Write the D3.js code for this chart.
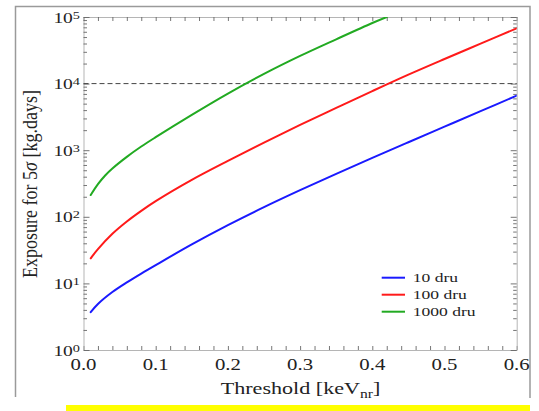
<!DOCTYPE html>
<html>
<head>
<meta charset="utf-8">
<script src="https://cdn.jsdelivr.net/npm/d3@7"></script>
<style>
  html, body { margin: 0; padding: 0; background: #fff; }
  svg { display: block; }
  text { font-family: "Liberation Serif", "Times New Roman", serif; fill: #222; }
</style>
</head>
<body>
<svg id="chart" width="539" height="411"></svg>
<script>
// Required exposure for a 5 sigma detection vs. nuclear-recoil threshold
const threshold = [0.01, 0.02, 0.04, 0.06, 0.08, 0.10, 0.15, 0.20, 0.25, 0.30, 0.35, 0.40, 0.45, 0.50, 0.55, 0.60];
const exposure10dru  = [3.7, 4.9, 7.41, 10.35, 14.06, 18.84, 38.5, 75.0, 139.6, 251, 442, 767, 1318, 2254, 3855, 6607];
const exposure100dru = [23.8, 32.7, 55.6, 85.1, 123, 172, 359, 692, 1303, 2399, 4315, 7727, 13650, 23440, 39810, 67610];
const threshold1000 = [0.01, 0.02, 0.03, 0.04, 0.06, 0.08, 0.10, 0.15, 0.20, 0.25, 0.30, 0.35, 0.40, 0.42];
const exposure1000dru = [212, 309, 417, 531, 794, 1135, 1567, 3388, 7079, 13960, 26000, 46240, 81280, 100000];

const seriesNames = ["10 dru", "100 dru", "1000 dru"];
const seriesColors = ["#1a1aff", "#ff1a1a", "#22aa22"];
const xTickLabels = [0.0, 0.1, 0.2, 0.3, 0.4, 0.5, 0.6];
const yDecades = [0, 1, 2, 3, 4, 5];
const referenceExposure = 1e4;

const series = [
  { name: seriesNames[0], color: seriesColors[0], xs: threshold, ys: exposure10dru },
  { name: seriesNames[1], color: seriesColors[1], xs: threshold, ys: exposure100dru },
  { name: seriesNames[2], color: seriesColors[2], xs: threshold1000, ys: exposure1000dru }
];

const svg = d3.select("#chart");
const SX = 1.3; // horizontal glyph stretch used by the figure's typesetting

const plot = { left: 83.5, right: 516.7, top: 17, bottom: 350 };
const x = d3.scaleLinear().domain([0, 0.6]).range([plot.left, plot.right]);
const y = d3.scaleLog().domain([1, 1e5]).range([plot.bottom, plot.top]);

// outer frame (open at the bottom)
svg.append("path")
  .attr("d", `M15.5,397 L15.5,6.5 L530,6.5 L530,398`)
  .attr("fill", "none").attr("stroke", "#9a9a9a").attr("stroke-width", 1.5);

// tick sets
const xMinor = d3.range(0, 31).map(i => +(i * 0.02).toFixed(2));
const yAll = [];
yDecades.slice(0, -1).forEach(d => { for (let m = 1; m <= 9; m++) yAll.push(m * Math.pow(10, d)); });
yAll.push(1e5);
const isMajorY = v => Math.abs(Math.log10(v) - Math.round(Math.log10(v))) < 1e-9;

function styleAxis(g) {
  g.select(".domain").attr("stroke", "#b5b5b5").attr("stroke-width", 1);
  g.selectAll(".tick line").attr("stroke", "#666").attr("stroke-width", 0.9);
  g.selectAll(".tick text").remove();
}

svg.append("g").attr("transform", `translate(0,${plot.bottom})`)
  .call(d3.axisBottom(x).tickValues(xMinor).tickSize(-4).tickSizeOuter(0).tickFormat(""))
  .call(styleAxis);
svg.append("g").attr("transform", `translate(0,${plot.top})`)
  .call(d3.axisTop(x).tickValues(xMinor).tickSize(-4).tickSizeOuter(0).tickFormat(""))
  .call(styleAxis);

const gl = svg.append("g").attr("transform", `translate(${plot.left},0)`)
  .call(d3.axisLeft(y).tickValues(yAll).tickSize(-3.5).tickSizeOuter(0).tickFormat(""))
  .call(styleAxis);
gl.selectAll(".tick line").attr("x2", d => isMajorY(d) ? 6 : 3.5);
const gr = svg.append("g").attr("transform", `translate(${plot.right},0)`)
  .call(d3.axisRight(y).tickValues(yAll).tickSize(-3.5).tickSizeOuter(0).tickFormat(""))
  .call(styleAxis);
gr.selectAll(".tick line").attr("x2", d => isMajorY(d) ? -6 : -3.5);

// x tick labels
svg.append("g").selectAll("text").data(xTickLabels).join("text")
  .attr("transform", d => `translate(${x(d)},370) scale(${SX},1)`)
  .attr("text-anchor", "middle").attr("font-size", 16)
  .text(d => d.toFixed(1));

// y tick labels 10^n
const yl = svg.append("g").selectAll("text").data(yDecades).join("text")
  .attr("transform", d => `translate(80,${y(Math.pow(10, d)) + 5.5}) scale(${SX},1)`)
  .attr("text-anchor", "end").attr("font-size", 15);
yl.append("tspan").text("10");
yl.append("tspan").attr("font-size", 11).attr("dy", -4).text(d => d);

// reference line at 10^4
svg.append("line")
  .attr("x1", plot.left).attr("x2", plot.right)
  .attr("y1", y(referenceExposure)).attr("y2", y(referenceExposure))
  .attr("stroke", "#444").attr("stroke-width", 1).attr("stroke-dasharray", "5,3");

// curves
svg.append("clipPath").attr("id", "plotClip").append("rect")
  .attr("x", plot.left).attr("y", plot.top)
  .attr("width", plot.right - plot.left).attr("height", plot.bottom - plot.top);

const line = d3.line().x(d => x(d[0])).y(d => y(d[1])).curve(d3.curveCatmullRom.alpha(0.5));
svg.append("g").attr("clip-path", "url(#plotClip)")
  .selectAll("path").data(series).join("path")
  .attr("d", s => line(s.xs.map((v, i) => [v, s.ys[i]])))
  .attr("fill", "none").attr("stroke", s => s.color).attr("stroke-width", 2)
  .attr("stroke-linejoin", "round").attr("stroke-linecap", "round");

// legend
const lg = svg.append("g").selectAll("g").data(series).join("g")
  .attr("transform", (s, i) => `translate(0,${277.7 + i * 17})`);
lg.append("line").attr("x1", 381.7).attr("x2", 405).attr("y1", 0).attr("y2", 0)
  .attr("stroke", s => s.color).attr("stroke-width", 2);
lg.append("text")
  .attr("transform", `translate(412.7,4.5) scale(1.35,1)`)
  .attr("font-size", 13).text(s => s.name);

// axis titles
const xt = svg.append("text")
  .attr("transform", `translate(300.5,394) scale(${SX},1)`)
  .attr("text-anchor", "middle").attr("font-size", 17);
xt.append("tspan").text("Threshold [keV");
xt.append("tspan").attr("font-size", 12).attr("dy", 4).text("nr");
xt.append("tspan").attr("dy", -4).text("]");

const yt = svg.append("text")
  .attr("transform", `translate(37,184) rotate(-90) scale(1,1.2)`)
  .attr("text-anchor", "middle").attr("font-size", 18);
yt.append("tspan").text("Exposure for 5");
yt.append("tspan").attr("font-style", "italic").text("σ");
yt.append("tspan").text(" [kg.days]");

// page number peeking out under the figure
svg.append("clipPath").attr("id", "pageClip").append("rect")
  .attr("x", 340).attr("y", 396.5).attr("width", 80).attr("height", 10);
svg.append("text").attr("clip-path", "url(#pageClip)")
  .attr("transform", `translate(381,403) scale(${SX},1)`)
  .attr("text-anchor", "middle").attr("font-size", 24)
  .style("fill", "#777").text("15");

// highlight bar
svg.append("rect").attr("x", 66).attr("y", 405).attr("width", 464).attr("height", 6)
  .attr("fill", "#ffff00");
</script>
</body>
</html>
